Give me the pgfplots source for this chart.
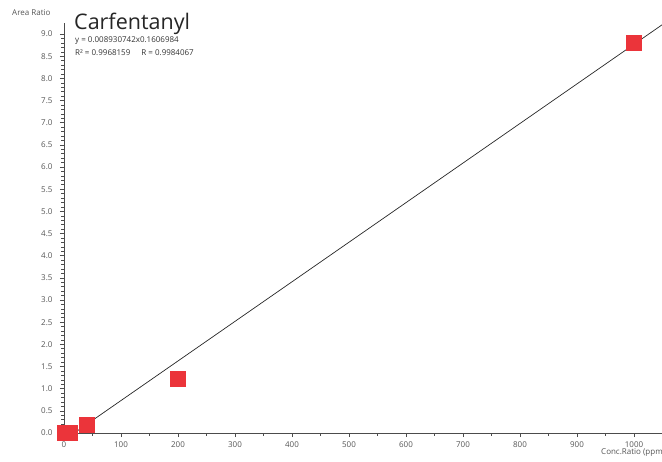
\documentclass[border=0pt]{standalone}
\usepackage{pgfplots}
\pgfplotsset{compat=1.18}
\usepackage{fontspec}
\setmainfont{Open Sans}
\definecolor{ptred}{RGB}{235,52,58}
\definecolor{txtgray}{RGB}{85,85,85}
\begin{document}
\begin{tikzpicture}
\begin{axis}[
 at={(0,0)}, anchor=south west,
 scale only axis, width=598.5pt, height=410pt,
 xmin=0, xmax=1050, ymin=0, ymax=9.25,
 axis x line=bottom, axis y line=left,
 axis line style={-, draw=black!70, line width=0.8pt},
 xtick={0,100,200,300,400,500,600,700,800,900,1000},
 ytick={0,0.5,1,1.5,2,2.5,3,3.5,4,4.5,5,5.5,6,6.5,7,7.5,8,8.5,9},
 minor x tick num=1, minor y tick num=4,
 tick align=outside, major tick length=4pt, minor tick length=2.5pt,
 tick style={black!70, line width=0.6pt},
 ticklabel style={font=\fontsize{8}{9}\selectfont, text=txtgray},
 yticklabel style={xshift=-4pt, /pgf/number format/fixed, /pgf/number format/fixed zerofill, /pgf/number format/precision=1},
 xticklabel style={yshift=-1.5pt, /pgf/number format/fixed, /pgf/number format/precision=0, /pgf/number format/1000 sep={}},
 /pgf/number format/assume math mode=true,
 clip=false,
]
\addplot[black!85, line width=0.7pt] coordinates {(18,0.0) (1050,9.216)};
\addplot[only marks, color=ptred, mark=square*, mark size=7.5pt, mark options={draw=ptred, fill=ptred, line width=0pt}]
 coordinates {(2,0.0) (10,0.0) (41,0.17) (200,1.22) (1000,8.81)};
\end{axis}
\node[anchor=west, inner sep=0pt, font=\fontsize{8}{9}\selectfont, text=txtgray] at (-52pt,420pt) {Area Ratio};
\node[anchor=base west, inner sep=0pt, font=\fontsize{21.5}{24}\selectfont, text=black!85] at (10pt,403pt) {Carfentanyl};
\node[anchor=west, inner sep=0pt, font=\fontsize{8}{9}\selectfont, text=black!80] at (11pt,392pt) {y = 0.008930742x0.1606984};
\node[anchor=west, inner sep=0pt, font=\fontsize{8}{9}\selectfont, text=black!80] at (11pt,380pt) {R² = 0.9968159\hspace{11pt}R = 0.9984067};
\node[anchor=west, inner sep=0pt, font=\fontsize{8}{9}\selectfont, text=txtgray] at (537pt,-20pt) {Conc.Ratio (ppm)};
\pgfresetboundingbox
\useasboundingbox (-64pt,-28pt) rectangle (598pt,433pt);
\end{tikzpicture}
\end{document}
